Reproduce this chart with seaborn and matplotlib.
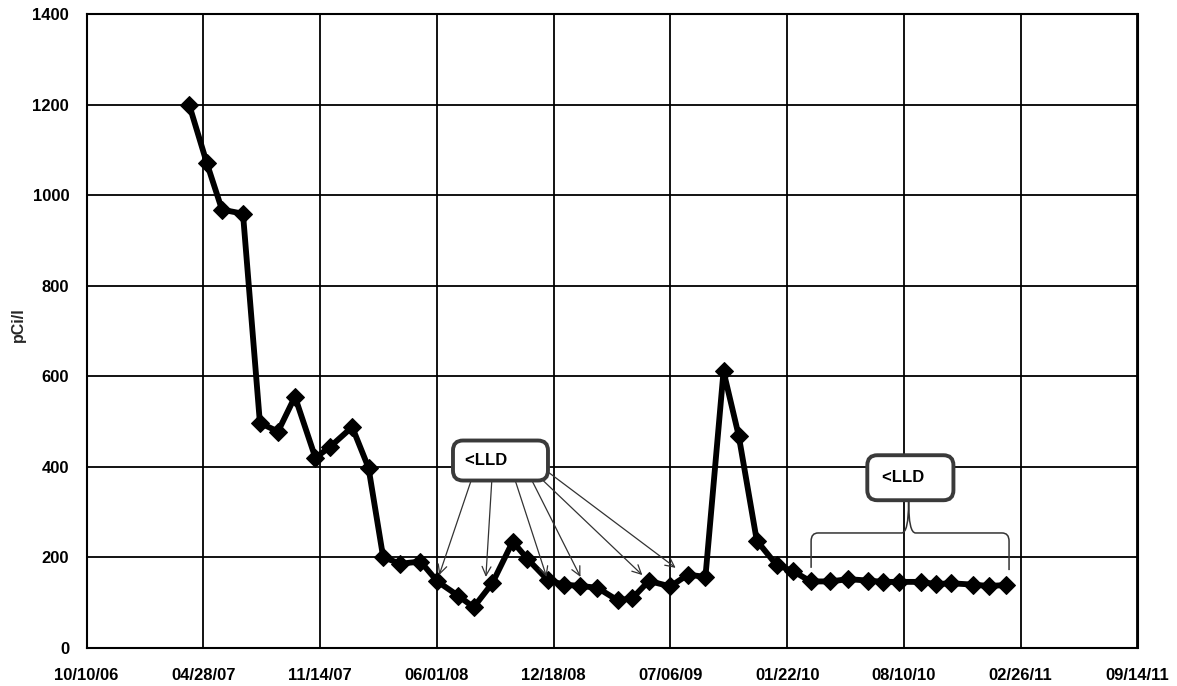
import matplotlib
matplotlib.use("Agg")
import numpy as np
import pandas as pd
import seaborn as sns
import matplotlib.pyplot as plt
import matplotlib.dates as mdates
from matplotlib.path import Path
from matplotlib.patches import PathPatch

sns.set_style("white")
plt.rcParams['font.family'] = ['Liberation Sans', 'DejaVu Sans']

# ---- data ----
dates = [
    "2007-04-04", "2007-05-04", "2007-05-30", "2007-07-05", "2007-08-03",
    "2007-09-03", "2007-10-02", "2007-11-06", "2007-12-01", "2008-01-08",
    "2008-02-05", "2008-03-01", "2008-03-30", "2008-05-04", "2008-06-02",
    "2008-07-08", "2008-08-03", "2008-09-04", "2008-10-09", "2008-11-03",
    "2008-12-08", "2009-01-04", "2009-02-02", "2009-03-03", "2009-04-07",
    "2009-05-02", "2009-05-30", "2009-07-06", "2009-08-05", "2009-09-04",
    "2009-10-05", "2009-10-31", "2009-12-01", "2010-01-04", "2010-02-01",
    "2010-03-03", "2010-04-06", "2010-05-06", "2010-06-09", "2010-07-05",
    "2010-08-01", "2010-09-08", "2010-10-04", "2010-10-29", "2010-12-06",
    "2011-01-02", "2011-02-01",
]
values = [
    1199, 1071, 968, 959, 497,
    478, 555, 420, 444, 488,
    398, 201, 186, 191, 147,
    115, 90, 143, 235, 197,
    150, 140, 137, 133, 105,
    110, 148, 136, 162, 157,
    611, 469, 237, 183, 170,
    147, 147, 152, 149, 146,
    146, 146, 141, 143, 140,
    137, 139,
]
x_tick_start = "2006-10-10"
x_tick_step_days = 200
x_tick_count = 10
y_ticks = [0, 200, 400, 600, 800, 1000, 1200, 1400]
y_label = "pCi/l"
callout_text = "<LLD"

# callout 1 (box centre + arrows: start -> target)
box1_center = ("2008-09-18", 414)
arrows_from = [("2008-07-29", 367), ("2008-09-03", 367), ("2008-10-14", 367),
               ("2008-11-12", 367), ("2008-11-29", 371), ("2008-12-06", 391)]
arrows_to = [("2008-06-05", 161), ("2008-08-24", 157), ("2008-12-06", 157),
             ("2009-02-02", 157), ("2009-05-19", 161), ("2009-07-15", 177)]
# callout 2 (box centre + brace)
box2_center = ("2010-08-21", 376)
brace_left = "2010-03-04"
brace_right = "2011-02-06"
brace_mid = "2010-08-18"
brace_bottom_left = 177
brace_bottom_right = 172
brace_level = 254
brace_peak = 323

# ---- figure ----
df = pd.DataFrame({"date": pd.to_datetime(dates), "value": values})

fig = plt.figure(figsize=(11.77, 6.86), dpi=100)
ax = fig.add_axes([86.5 / 1177, 1 - 648 / 686, (1137.5 - 86.5) / 1177, (648 - 14) / 686])

sns.lineplot(data=df, x="date", y="value", ax=ax, color="black", linewidth=4.2,
             marker="D", markersize=9, markeredgecolor="black", markerfacecolor="black",
             zorder=5)

start = pd.Timestamp(x_tick_start)
xticks = [start + pd.Timedelta(days=x_tick_step_days * k) for k in range(x_tick_count)]
ax.set_xticks(xticks)
ax.xaxis.set_major_formatter(mdates.DateFormatter("%m/%d/%y"))
ax.set_xlim(xticks[0], xticks[-1])
ax.set_ylim(y_ticks[0], y_ticks[-1])
ax.set_yticks(y_ticks)

ax.grid(True, color="black", linewidth=1.3)
ax.set_axisbelow(True)
for s in ax.spines.values():
    s.set_color("black")
    s.set_linewidth(1.5)

ax.tick_params(axis="both", direction="out", length=4.5, width=1.2, color="black",
               labelsize=12, labelcolor="black")
ax.tick_params(axis="x", pad=10)
ax.tick_params(axis="y", pad=8)
for lab in ax.get_xticklabels() + ax.get_yticklabels():
    lab.set_fontweight("bold")

ax.set_xlabel("")
ax.set_ylabel(y_label, fontsize=11.5, fontweight="bold")
ax.yaxis.set_label_coords(-0.058, 0.51)


def dn(d):
    return mdates.date2num(pd.Timestamp(d))


# arrows from callout 1
for (d0, v0), (d1, v1) in zip(arrows_from, arrows_to):
    ax.annotate("", xy=(dn(d1), v1), xytext=(dn(d0), v0),
                arrowprops=dict(arrowstyle="->", color="#333333", lw=0.9,
                                mutation_scale=16, shrinkA=0, shrinkB=0),
                zorder=6)

box_style = dict(boxstyle="round,pad=0.75,rounding_size=0.6", facecolor="white",
                 edgecolor="#3a3a3a", linewidth=2.8)
ax.text(dn(box1_center[0]), box1_center[1], callout_text + "      ", ha="center",
        va="center", fontsize=12, fontweight="bold", color="black", bbox=box_style,
        zorder=8)

# brace under callout 2
xl, xr, xm = dn(brace_left), dn(brace_right), dn(brace_mid)
r = 12
verts = [
    (xl, brace_bottom_left),
    (xl, brace_level - 18),
    (xl, brace_level), (xl + r, brace_level),
    (xm - r, brace_level),
    (xm, brace_level), (xm, brace_peak),
    (xm, brace_level), (xm + r, brace_level),
    (xr - r, brace_level),
    (xr, brace_level), (xr, brace_level - 18),
    (xr, brace_bottom_right),
]
codes = [Path.MOVETO, Path.LINETO, Path.CURVE3, Path.CURVE3, Path.LINETO,
         Path.CURVE3, Path.CURVE3, Path.CURVE3, Path.CURVE3, Path.LINETO,
         Path.CURVE3, Path.CURVE3, Path.LINETO]
ax.add_patch(PathPatch(Path(verts, codes), facecolor="none", edgecolor="#333333",
                       lw=1.1, zorder=6))

box_style2 = dict(boxstyle="round,pad=0.9,rounding_size=0.6", facecolor="white",
                  edgecolor="#3a3a3a", linewidth=2.8)
ax.text(dn(box2_center[0]), box2_center[1], callout_text + "   ", ha="center",
        va="center", fontsize=12, fontweight="bold", color="black", bbox=box_style2,
        zorder=8)

fig.savefig("out.png", dpi=100)
